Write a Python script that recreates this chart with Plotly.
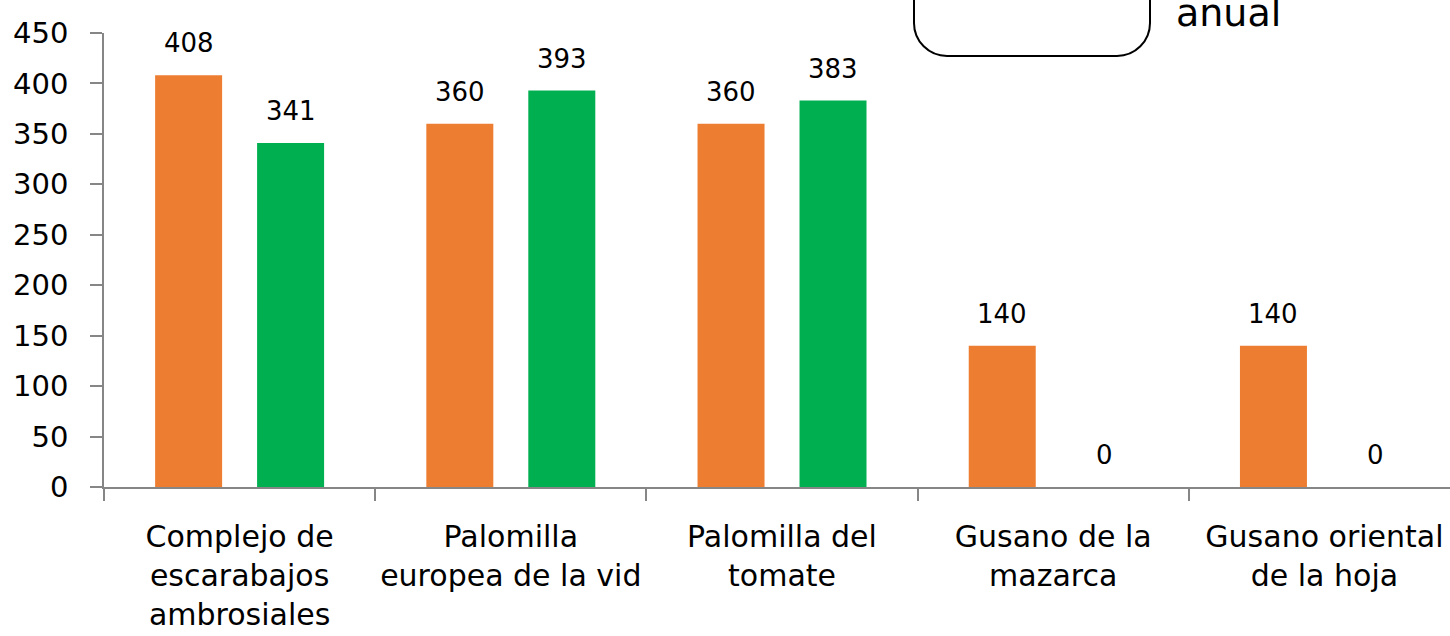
import plotly.graph_objects as go

categorias = [
    "Complejo de<br>escarabajos<br>ambrosiales",
    "Palomilla<br>europea de la vid",
    "Palomilla del<br>tomate",
    "Gusano de la<br>mazarca",
    "Gusano oriental<br>de la hoja",
]
serie_naranja = [408, 360, 360, 140, 140]
serie_verde = [341, 393, 383, 0, 0]
ticks_y = [0, 50, 100, 150, 200, 250, 300, 350, 400, 450]

NARANJA = "#ED7D31"
VERDE = "#00B050"
GRIS = "#868686"
FUENTE = "DejaVu Sans"

fig = go.Figure()
fig.add_trace(go.Bar(x=categorias, y=serie_naranja, name="Serie 1",
                     marker=dict(color=NARANJA, line=dict(width=0))))
fig.add_trace(go.Bar(x=categorias, y=serie_verde, name="Serie 2",
                     marker=dict(color=VERDE, line=dict(width=0))))

annotations = []
for serie, shift in ((serie_naranja, -51), (serie_verde, 51)):
    for cat, v in zip(categorias, serie):
        annotations.append(dict(
            x=cat, y=v, xref="x", yref="y", text=str(v), showarrow=False,
            xanchor="center", yanchor="bottom", xshift=shift, yshift=15,
            font=dict(family=FUENTE, size=26, color="#000000")))

annotations.append(dict(
    x=(1174 - 104) / 1346, y=(487 - 13) / 454, xref="paper", yref="paper",
    text="anual", showarrow=False, xanchor="left", yanchor="middle",
    font=dict(family=FUENTE, size=38, color="#000000")))

# rounded box (partially outside the top of the picture)
x0 = (914 - 104) / 1346
x1 = (1150 - 104) / 1346
yb = (487 - 56) / 454
yt = (487 + 20) / 454
rx = 33 / 1346
ry = 33 / 454
k = 0.552
path = (f"M {x0},{yt} L {x0},{yb + ry} "
        f"C {x0},{yb + ry * (1 - k)} {x0 + rx * (1 - k)},{yb} {x0 + rx},{yb} "
        f"L {x1 - rx},{yb} "
        f"C {x1 - rx * (1 - k)},{yb} {x1},{yb + ry * (1 - k)} {x1},{yb + ry} "
        f"L {x1},{yt}")

fig.update_layout(
    width=1450, height=636,
    margin=dict(l=104, r=0, t=33, b=149),
    paper_bgcolor="white", plot_bgcolor="white",
    barmode="group", bargap=0.248, bargroupgap=0.343,
    showlegend=False,
    annotations=annotations,
    shapes=[dict(type="path", path=path, xref="paper", yref="paper",
                 line=dict(color="#000000", width=2), layer="above")],
    xaxis=dict(
        type="category", range=[-0.5, 4.463],
        showline=True, linecolor=GRIS, linewidth=1.5,
        ticks="outside", tickson="boundaries", ticklen=12, tickcolor=GRIS,
        tickwidth=1.5, ticklabelstandoff=22,
        tickfont=dict(family=FUENTE, size=30, color="#000000"),
        showgrid=False, zeroline=False),
    yaxis=dict(
        range=[0, 450], tickvals=ticks_y,
        showline=True, linecolor=GRIS, linewidth=1.5,
        ticks="outside", ticklen=12, tickcolor=GRIS, tickwidth=1.5,
        ticklabelstandoff=16,
        tickfont=dict(family=FUENTE, size=29, color="#000000"),
        showgrid=False, zeroline=False),
)

fig.write_html(
    "out.html",
    config={"displayModeBar": False},
    post_script="document.body.style.margin='0';document.body.style.overflow='hidden';",
)
